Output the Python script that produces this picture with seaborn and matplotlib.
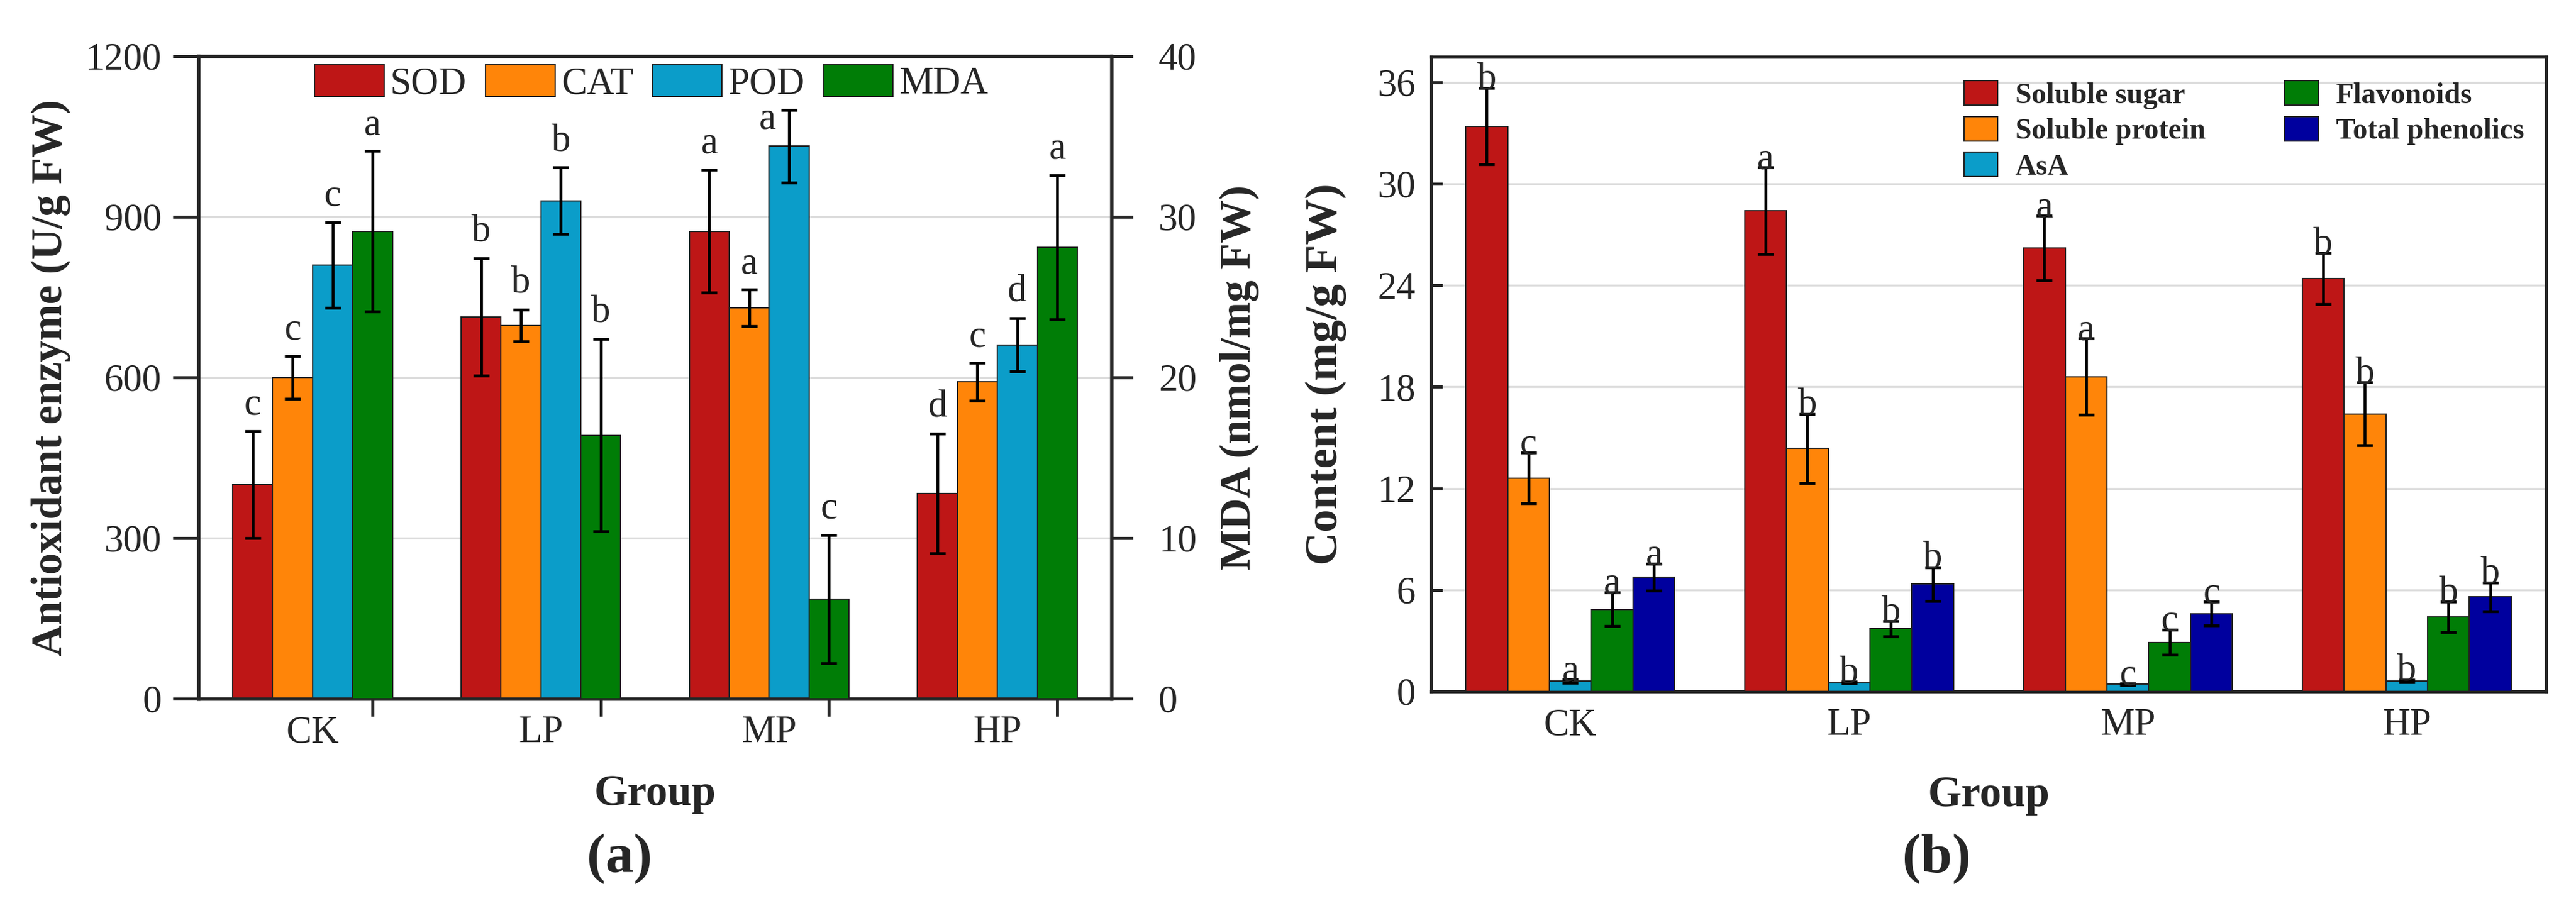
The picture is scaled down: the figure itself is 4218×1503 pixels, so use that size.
import numpy as np
import pandas as pd
import matplotlib
matplotlib.use("Agg")
import matplotlib.pyplot as plt
from matplotlib.patches import Patch
import seaborn as sns

groups = ['CK', 'LP', 'MP', 'HP']

# (a) antioxidant enzymes (U/g FW) and MDA (nmol/mg FW)
enzymes = ['SOD', 'CAT', 'POD', 'MDA']
sod = [400, 713, 873, 383]
sod_sd = [100, 110, 115, 112]
cat = [600, 697, 730, 592]
cat_sd = [40, 30, 34, 35]
pod = [810, 930, 1032, 661]
pod_sd = [80, 62, 68, 50]
mda = [29.1, 16.4, 6.2, 28.1]
mda_sd = [5.0, 6.0, 4.0, 4.5]
sod_letters = ['c', 'b', 'a', 'd']
cat_letters = ['c', 'b', 'a', 'c']
pod_letters = ['c', 'b', 'a', 'd']
mda_letters = ['a', 'b', 'c', 'a']

# (b) contents (mg/g FW)
compounds = ['Soluble sugar', 'Soluble protein', 'AsA', 'Flavonoids', 'Total phenolics']
sugar = [33.4, 28.4, 26.2, 24.4]
sugar_sd = [2.25, 2.55, 1.9, 1.5]
protein = [12.6, 14.35, 18.6, 16.4]
protein_sd = [1.5, 2.05, 2.25, 1.85]
asa = [0.62, 0.52, 0.42, 0.62]
asa_sd = [0.1, 0.05, 0.05, 0.08]
flav = [4.85, 3.7, 2.9, 4.4]
flav_sd = [1.0, 0.45, 0.75, 0.9]
phen = [6.75, 6.34, 4.6, 5.58]
phen_sd = [0.8, 1.0, 0.7, 0.85]
sugar_letters = ['b', 'a', 'a', 'b']
protein_letters = ['c', 'b', 'a', 'b']
asa_letters = ['a', 'b', 'c', 'b']
flav_letters = ['a', 'b', 'c', 'b']
phen_letters = ['a', 'b', 'c', 'b']

colors = ['#be1616', '#ff8509', '#0b9dc9', '#007d06', '#00009e']
pal_a = dict(zip(enzymes, colors[:4]))
pal_b = dict(zip(compounds, colors))


def long_table(names, series):
    rows = []
    for name, vals in zip(names, series):
        for g, v in zip(groups, vals):
            rows.append({'Group': g, 'Index': name, 'value': v})
    return pd.DataFrame(rows)


def bar_centers(axis, names):
    """x centre of each bar, per hue level, read back from the drawn patches"""
    found = {}
    for p in axis.patches:
        if p.get_width() == 0 or not np.isfinite(p.get_height()):
            continue
        c = p.get_x() + p.get_width() / 2
        gi = int(round(c))
        found.setdefault(round(c - gi, 4), {})[gi] = c
    offs = sorted(found)
    return {n: [found[o][i] for i in range(len(groups))] for n, o in zip(names, offs)}


def add_errors(axis, xs, means, sds, letters, fs, dy, special=None):
    axis.errorbar(xs, means, yerr=sds, fmt='none', ecolor='black', elinewidth=1.1,
                  capsize=3.2, capthick=1.1, zorder=6)
    for i, (x, m, s, t) in enumerate(zip(xs, means, sds, letters)):
        off = (0, dy)
        if special and i in special:
            off = special[i]
        axis.annotate(t, (x, m + s), xytext=off, textcoords='offset points',
                      ha='center', va='baseline', fontsize=fs, zorder=7)


sns.set_style('ticks')
plt.rcParams['font.family'] = ['Liberation Serif', 'DejaVu Serif']
plt.rcParams['axes.linewidth'] = 1.3

fig = plt.figure(figsize=(4218 / 300, 1503 / 300), dpi=300)
ax = fig.add_axes([0.07705, 0.23886, 0.35443, 0.69993])
bx = fig.add_axes([0.55548, 0.24684, 0.43290, 0.69128])

edge = dict(edgecolor='#222222', linewidth=0.5)

# ---------------- (a) ----------------
df_enz = long_table(enzymes[:3], [sod, cat, pod])
df_mda = long_table(enzymes[3:], [mda])
sns.barplot(data=df_enz, x='Group', y='value', hue='Index', hue_order=enzymes,
            order=groups, palette=pal_a, width=0.7, dodge=True, saturation=1,
            errorbar=None, legend=False, ax=ax, zorder=3, **edge)
ax2 = ax.twinx()
sns.barplot(data=df_mda, x='Group', y='value', hue='Index', hue_order=enzymes,
            order=groups, palette=pal_a, width=0.7, dodge=True, saturation=1,
            errorbar=None, legend=False, ax=ax2, zorder=3, **edge)

pos = bar_centers(ax, enzymes[:3])
pos.update(bar_centers(ax2, enzymes[3:]))
add_errors(ax, pos['SOD'], sod, sod_sd, sod_letters, 15, 6.5)
add_errors(ax, pos['CAT'], cat, cat_sd, cat_letters, 15, 6.5)
add_errors(ax, pos['POD'], pod, pod_sd, pod_letters, 15, 6.5, special={2: (-8.5, -7.5)})
add_errors(ax2, pos['MDA'], mda, mda_sd, mda_letters, 15, 6.5)

ax.set_xlim(-0.5, 3.5)
ax.set_ylim(0, 1200)
ax2.set_ylim(0, 40)
ax.set_yticks([0, 300, 600, 900, 1200])
ax2.set_yticks([0, 10, 20, 30, 40])
ax.set_xticks(range(len(groups)))
ax.set_xticklabels(groups)
ax.set_xticks(pos['MDA'], minor=True)
ax.tick_params(axis='x', which='major', length=0, pad=6.5, labelsize=15)
ax.tick_params(axis='x', which='minor', direction='out', length=7, width=1.2)
ax.tick_params(axis='y', direction='out', length=10, width=1.2, pad=4.5, labelsize=15)
ax2.tick_params(axis='y', direction='out', length=8.5, width=1.2, pad=10, labelsize=15)
ax.yaxis.grid(True, color='#dcdcdc', linewidth=0.8)
ax.set_axisbelow(True)
for s in ax.spines.values():
    s.set_linewidth(1.3)

ax.set_xlabel('Group', fontsize=17, fontweight='bold')
ax.xaxis.set_label_coords(0.5, -0.118)
ax.set_ylabel('Antioxidant enzyme (U/g FW)', fontsize=17, fontweight='bold')
ax.yaxis.set_label_coords(-0.140, 0.5)
ax2.set_xlabel('')
ax2.set_ylabel('MDA (nmol/mg FW)', fontsize=17, fontweight='bold')
ax2.yaxis.set_label_coords(1.118, 0.5)

handles_a = [Patch(facecolor=pal_a[n], **edge) for n in enzymes]
ax2.legend(handles_a, enzymes, ncol=4, loc='upper center', bbox_to_anchor=(0.496, 0.987),
           frameon=False, fontsize=15, handlelength=1.82, handleheight=0.9,
           handletextpad=0.16, columnspacing=0.5, borderpad=0, borderaxespad=0)

# ---------------- (b) ----------------
df_b = long_table(compounds, [sugar, protein, asa, flav, phen])
sns.barplot(data=df_b, x='Group', y='value', hue='Index', hue_order=compounds,
            order=groups, palette=pal_b, width=0.75, dodge=True, saturation=1,
            errorbar=None, legend=False, ax=bx, zorder=3, **edge)
posb = bar_centers(bx, compounds)
add_errors(bx, posb['Soluble sugar'], sugar, sugar_sd, sugar_letters, 15, -0.5)
add_errors(bx, posb['Soluble protein'], protein, protein_sd, protein_letters, 15, -0.5)
add_errors(bx, posb['AsA'], asa, asa_sd, asa_letters, 15, -0.5)
add_errors(bx, posb['Flavonoids'], flav, flav_sd, flav_letters, 15, -0.5)
add_errors(bx, posb['Total phenolics'], phen, phen_sd, phen_letters, 15, -0.5)

bx.set_xlim(-0.5, 3.5)
bx.set_ylim(0, 37.5)
bx.set_yticks(range(0, 37, 6))
bx.tick_params(axis='x', length=0, pad=6.5, labelsize=15)
bx.tick_params(axis='y', direction='in', length=4.5, width=1.2, pad=6, labelsize=15)
bx.yaxis.grid(True, color='#dcdcdc', linewidth=0.8)
bx.set_axisbelow(True)
for s in bx.spines.values():
    s.set_visible(True)
    s.set_linewidth(1.3)
bx.set_xlabel('Group', fontsize=17, fontweight='bold')
bx.xaxis.set_label_coords(0.5, -0.133)
bx.set_ylabel('Content (mg/g FW)', fontsize=18, fontweight='bold')
bx.yaxis.set_label_coords(-0.0756, 0.5)

handles_b = [Patch(facecolor=pal_b[n], **edge) for n in compounds]
bx.legend(handles_b, compounds, ncol=2, loc='upper left', bbox_to_anchor=(0.478, 0.962),
          frameon=False, prop={'size': 11.5, 'weight': 'bold'}, handlelength=1.15,
          handleheight=0.9, handletextpad=0.6, columnspacing=2.7, labelspacing=0.25,
          borderpad=0, borderaxespad=0)

fig.text(0.2404, 0.065, '(a)', fontsize=22, fontweight='bold', ha='center', va='center')
fig.text(0.7518, 0.065, '(b)', fontsize=22, fontweight='bold', ha='center', va='center')

fig.savefig('out.png', dpi=300)
